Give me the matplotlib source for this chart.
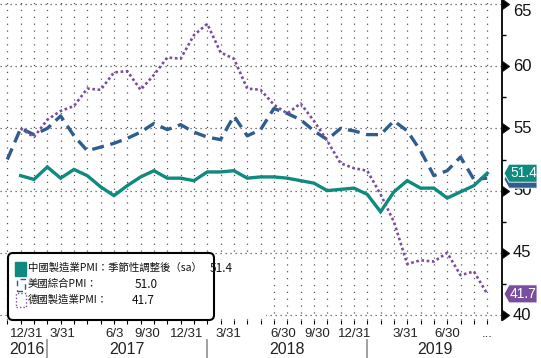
import numpy as np
import matplotlib
matplotlib.use("Agg")
import matplotlib.pyplot as plt
from matplotlib import transforms
from matplotlib.patches import FancyBboxPatch, Rectangle, Polygon

plt.rcParams['font.family'] = ['Liberation Sans', 'DejaVu Sans']
CJK = ['Noto Sans CJK TC', 'DejaVu Sans']

# month index: 0 = 2016-09 ... 36 = 2019-09
us_x = np.arange(37)
us = [52.5, 55.0, 54.5, 55.0, 56.0, 54.4, 53.2, 53.5, 53.8, 54.2, 54.7, 55.4,
      54.9, 55.3, 54.7, 54.3, 54.1, 56.0, 54.4, 54.9, 56.6, 56.2, 55.7, 54.8,
      54.1, 55.0, 54.8, 54.5, 54.5, 55.6, 54.8, 53.2, 51.2, 51.6, 52.7, 50.9, 51.0]
cn_x = np.arange(1, 37)
china = [51.2, 50.9, 51.9, 51.0, 51.7, 51.2, 50.3, 49.6, 50.4, 51.1, 51.6, 51.0,
         51.0, 50.8, 51.5, 51.5, 51.6, 51.0, 51.1, 51.1, 51.0, 50.8, 50.6, 50.0,
         50.1, 50.2, 49.7, 48.3, 49.9, 50.8, 50.2, 50.2, 49.4, 49.9, 50.4, 51.4]
de_x = np.arange(1, 37)
germany = [55.0, 54.3, 55.7, 56.4, 56.8, 58.2, 58.1, 59.5, 59.6, 58.1, 59.3, 60.7,
           60.6, 62.5, 63.4, 61.1, 60.6, 58.2, 58.1, 56.9, 56.2, 57.0, 55.6, 54.0,
           52.2, 51.8, 51.6, 49.7, 47.5, 44.1, 44.4, 44.3, 45.0, 43.2, 43.5, 41.7]

tick_pos = [1.46, 4.1, 8.08, 10.48, 13.45, 16.62, 20.68, 23.27, 26.08, 29.83, 33.02, 36.02]
tick_lbl = ['12/31', '3/31', '6/3', '9/30', '12/31', '3/31', '6/30', '9/30',
            '12/31', '3/31', '6/30', '...']
years = ['2016', '2017', '2018', '2019']
year_pos = [1.48, 9.0, 21.0, 32.1]
year_breaks = [3, 15, 27]

legend_names = ['中國製造業PMI：季節性調整後（sa）', '美國綜合PMI：', '德國製造業PMI：']
legend_vals = ['51.4', '51.0', '41.7']

teal = '#0e8a7e'
blue = '#2e5d8e'
purple = '#7a4e9e'

W, H = 541, 358
fig = plt.figure(figsize=(W / 100, H / 100), dpi=100)
ax = fig.add_axes([0, (H - 320) / H, 502 / W, 320 / H])


def px(x, y):
    return (x / 100, (H - y) / 100)


ax.plot(cn_x, china, color=teal, lw=2.4, solid_joinstyle='miter', zorder=4)
ax.plot(us_x, us, color=blue, lw=2.4, dashes=(3.6, 2.0), zorder=3)
ax.plot(de_x, germany, color=purple, lw=1.9, linestyle=(0, (1, 1)), zorder=3)

ax.set_xlim(-0.55, 37.11)
ax.set_ylim(39.6, 65.32)

for s in ['left', 'top', 'bottom']:
    ax.spines[s].set_visible(False)
ax.spines['right'].set_linewidth(1.3)

# grid
for m in range(37):
    ax.axvline(m, color='#555555', lw=0.9, linestyle=(0, (1, 4.5)), zorder=1)
ax.yaxis.tick_right()
ax.set_yticks(np.arange(40, 66, 5))
ax.set_yticks(np.arange(42.5, 65, 5), minor=True)
ax.yaxis.grid(True, which='major', color='#555555', lw=0.9, linestyle=(0, (1, 3)))
ax.tick_params(axis='y', which='major', direction='out', length=6, pad=2,
               labelsize=12, colors='#111111')
ax.tick_params(axis='y', which='minor', direction='out', length=3, width=1)
for t in ax.yaxis.get_major_ticks():
    t.tick2line.set_marker(9)
    t.tick2line.set_markersize(7)
    t.tick2line.set_markerfacecolor('black')
for lbl in ax.get_yticklabels():
    lbl.set_verticalalignment('center')
ax.get_yticklabels()[-1].set_verticalalignment('top')

ax.set_xticks(tick_pos, tick_lbl)
ax.set_xticks(np.arange(0, 37), minor=True)
ax.tick_params(axis='x', which='major', length=0, pad=6, labelsize=9.5,
               colors='#222222')
ax.tick_params(axis='x', which='minor', length=3, width=0.8)

btrans = ax.get_xaxis_transform()
for b in year_breaks:
    ax.plot([b, b], [-20 / 320, -38 / 320], transform=btrans, color='#999999',
            lw=1.3, clip_on=False)
for yl, yp in zip(years, year_pos):
    ax.text(yp, -29 / 320, yl, transform=btrans, ha='center', va='center',
            fontsize=11.5, color='#222222')


# value tags on the right axis
def tag(value, text, color, dy=0):
    anchor = transforms.ScaledTranslation(1.0, value, ax.get_yaxis_transform())
    tr = fig.dpi_scale_trans + anchor
    pts = np.array([[2, 0], [7, 9], [35, 9], [35, -9], [7, -9]]) / 100.0
    pts[:, 1] += dy / 100.0
    poly = Polygon(pts, closed=True, transform=tr, facecolor=color,
                   edgecolor='white', lw=0.6, clip_on=False, zorder=6)
    ax.add_artist(poly)
    if text:
        ax.text(21.5 / 100, dy / 100, text, transform=tr, ha='center',
                va='center', color='white', fontsize=10, zorder=7, clip_on=False)


tag(us[-1], '', blue, dy=-1)
tag(china[-1], legend_vals[0], teal)
tag(germany[-1], legend_vals[2], purple)

# legend box
lt = fig.dpi_scale_trans
x0, y0 = px(8, 320)
x1, y1 = px(214, 253)
box = FancyBboxPatch((x0, y0), x1 - x0, y1 - y0,
                     boxstyle='round,pad=0,rounding_size=0.05',
                     transform=lt, facecolor='white', edgecolor='black',
                     lw=1.5, zorder=10)
fig.add_artist(box)
fig.add_artist(Rectangle(px(214, 318), 0.52, 0.62, transform=lt, facecolor='white',
                         edgecolor='none', zorder=9))

row_y = [268, 284, 300]
val_x = [210, 135, 132]
fig.add_artist(Rectangle(px(15, 276), 0.11, 0.14, transform=lt, facecolor=teal,
                         edgecolor=teal, zorder=11))
fig.add_artist(Rectangle(px(17, 291), 0.08, 0.12, transform=lt, facecolor='none',
                         edgecolor=blue, lw=1, linestyle=(0, (4, 3)), zorder=11))
fig.add_artist(Rectangle(px(16, 307), 0.10, 0.14, transform=lt, facecolor='none',
                         edgecolor=purple, lw=1, linestyle=(0, (1, 1.5)), zorder=11))
for name, val, yy, vx in zip(legend_names, legend_vals, row_y, val_x):
    fig.text(*px(28, yy), name, transform=lt, va='center', ha='left',
             fontsize=7.5, family=CJK, color='#111111', zorder=12)
    fig.text(*px(vx, yy), val, transform=lt, va='center', ha='left',
             fontsize=8.5, family=CJK, color='#111111', zorder=12)

fig.savefig('out.png', dpi=100)
